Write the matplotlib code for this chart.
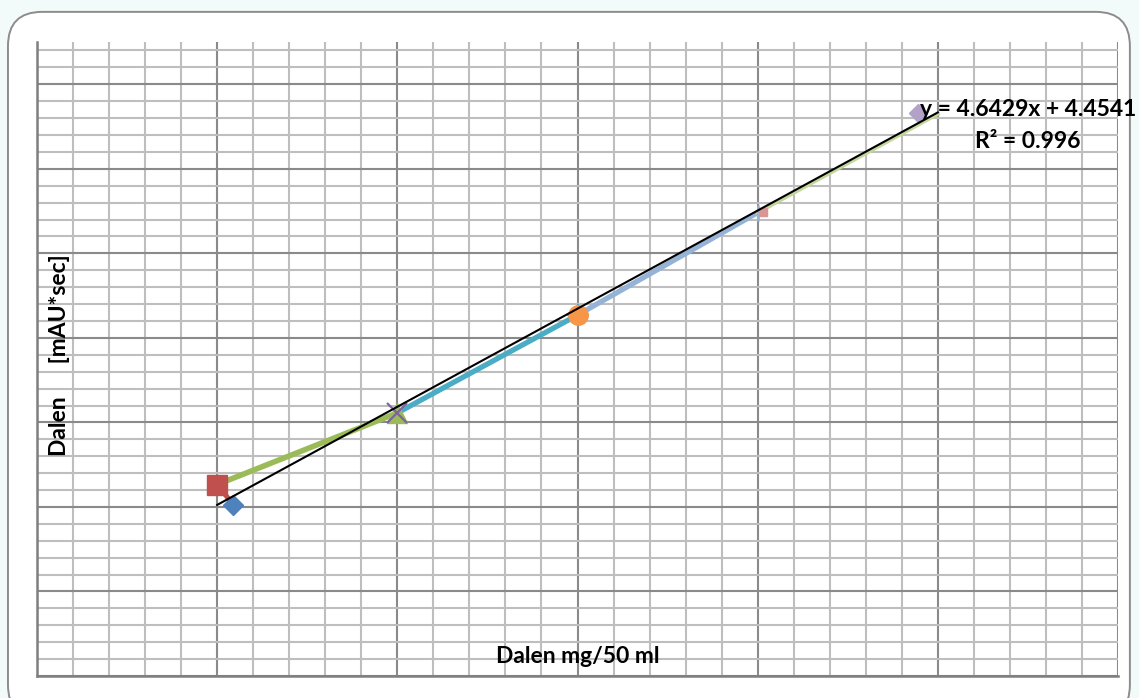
import matplotlib.pyplot as plt
from matplotlib.ticker import MultipleLocator
from matplotlib.patches import FancyBboxPatch

plt.rcParams['font.family'] = ['Lato', 'DejaVu Sans']

# concentration (mg/50 ml) and peak area (mAU*sec)
conc = [1.0, 2.0, 3.0, 4.0, 5.0]
area = [10.06, 13.45, 18.08, 22.93, 27.6]
# stray markers from the single-point series
blue_pt = (1.09, 9.1)
pink_pt = (4.03, 22.95)
purple_pt = (4.89, 27.65)

slope = 4.6429
intercept = 4.4541
r2 = 0.996

fig = plt.figure(figsize=(11.39, 6.98), dpi=100)
fig.patch.set_facecolor('#F3FAFA')
frame = FancyBboxPatch((0.007, -0.03), 0.985, 1.013, transform=fig.transFigure,
                       boxstyle='round,pad=0,rounding_size=0.03',
                       facecolor='white', edgecolor='#8C8C8C', linewidth=1.4,
                       mutation_aspect=1139 / 698, zorder=-1)
fig.patches.append(frame)

ax = fig.add_axes([0.0325, 0.0315, 0.9491, 0.9083])
ax.set_facecolor('white')
ax.set_xlim(0, 6)
ax.set_ylim(1, 31)

ax.xaxis.set_major_locator(MultipleLocator(1))
ax.xaxis.set_minor_locator(MultipleLocator(0.2))
ax.yaxis.set_major_locator(MultipleLocator(4, offset=1))
ax.yaxis.set_minor_locator(MultipleLocator(0.8, offset=1))
ax.grid(which='minor', color='#BEBEBE', linewidth=1.5)
ax.grid(which='major', color='#8A8A8A', linewidth=1.5)
ax.set_axisbelow(True)
ax.tick_params(which='both', length=0, labelbottom=False, labelleft=False)
for side in ['top', 'right']:
    ax.spines[side].set_visible(False)
for side in ['left', 'bottom']:
    ax.spines[side].set_color('#7F7F7F')
    ax.spines[side].set_linewidth(1.8)

# segments between neighbouring points, one colour per series
ax.plot([conc[0], blue_pt[0]], [area[0], blue_pt[1]], color='#C0504D', lw=3.6,
        solid_capstyle='butt')
ax.plot(conc[0:2], area[0:2], color='#9BBB59', lw=4)
ax.plot(conc[1:3], area[1:3], color='#4BACC6', lw=3.8)
ax.plot(conc[2:4], area[2:4], color='#95B3D7', lw=3.8)
ax.plot(conc[3:5], area[3:5], color='#C3D69B', lw=2.8)

ax.plot(*blue_pt, marker='D', ms=10, color='#4F81BD', ls='none')
ax.plot(conc[0], area[0], marker='s', ms=14, color='#C0504D', ls='none')
ax.plot(conc[1], area[1], marker='^', ms=14, color='#9BBB59', ls='none')
ax.plot(conc[1], area[1], marker='x', ms=14, mew=1.6, color='#8064A2', ls='none')
ax.plot(conc[2], area[2], marker='+', ms=16, mew=1.5, color='#4BACC6', ls='none')
ax.plot(conc[2], area[2], marker='o', ms=14, color='#F79646', ls='none')
ax.plot(conc[3], area[3], marker='|', ms=12, mew=2, color='#95B3D7', ls='none')
ax.plot(*pink_pt, marker='s', ms=6, color='#D99694', ls='none')
ax.plot(*purple_pt, marker='D', ms=9, color='#B3A2C7', ls='none')

# linear trend line
tx = [conc[0], conc[-1]]
ty = [slope * v + intercept for v in tx]
ax.plot(tx, ty, color='black', lw=1.5, zorder=5)

ax.text(5.5, 27.8, f'y = {slope}x + {intercept}', ha='center', va='center',
        fontsize=16.5, fontweight='bold', zorder=6)
ax.text(5.5, 26.3, f'R² = {r2}', ha='center', va='center',
        fontsize=16.5, fontweight='bold', zorder=6)

ax.text(0.5, 0.03, 'Dalen mg/50 ml', transform=ax.transAxes, ha='center',
        va='center', fontsize=16.5, fontweight='bold')
ax.text(0.021, 0.506, 'Dalen      [mAU*sec]', transform=ax.transAxes,
        ha='center', va='center', rotation=90, fontsize=16.5, fontweight='bold')

fig.savefig('out.png', dpi=100, facecolor=fig.get_facecolor())
